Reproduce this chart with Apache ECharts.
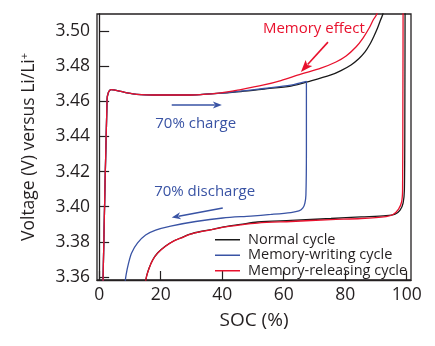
<!DOCTYPE html>
<html>
<head>
<meta charset="utf-8">
<script src="https://cdn.jsdelivr.net/npm/echarts@6/dist/echarts.min.js"></script>
<style>
html,body{margin:0;padding:0;background:#fff;}
#chart{width:435px;height:346px;}
</style>
</head>
<body>
<div id="chart"></div>
<script>
// ---- data (SOC %, Voltage V) ----
var xTicks = [0, 20, 40, 60, 80, 100];
var yTicks = [3.36, 3.38, 3.40, 3.42, 3.44, 3.46, 3.48, 3.50];
var seriesNames = ['Normal cycle', 'Memory-writing cycle', 'Memory-releasing cycle'];

var normalCycle = [
  [1.2, 3.3526], [2.57, 3.4607], [3.06, 3.4653], [3.94, 3.4667], [6.97, 3.4656],
  [12.2, 3.4640], [20, 3.4636], [29.8, 3.4636], [39.6, 3.4647], [46.1, 3.4656],
  [53.6, 3.4670], [62.35, 3.4687], [68.86, 3.4716], [75.37, 3.4750], [78.63, 3.4775],
  [81.89, 3.4807], [84.5, 3.4844], [86.45, 3.4881], [88.08, 3.4926], [89.38, 3.4972],
  [90.52, 3.5017], [91.5, 3.5063], [92.31, 3.5102], [93.5, 3.56], [99.5, 3.56],
  [99.48, 3.5176], [99.41, 3.4607], [99.25, 3.4095], [98.83, 3.4021], [97.85, 3.3981],
  [96.22, 3.3958], [93.29, 3.3949], [85.15, 3.3942], [75.37, 3.3933], [62.35, 3.3922],
  [51.5, 3.3913], [46.0, 3.3899], [40.5, 3.3885], [37.3, 3.3873], [33.0, 3.3859],
  [29.77, 3.3845], [26.5, 3.3822], [24.2, 3.3805], [21.6, 3.3776], [19.0, 3.3737],
  [17.4, 3.3697], [16.25, 3.3651], [15.44, 3.3606], [15.11, 3.3572], [15.0, 3.352]
];
var writingCycle = [
  [1.2, 3.3526], [2.57, 3.4607], [3.06, 3.4653], [3.94, 3.4667], [6.97, 3.4656],
  [12.2, 3.4640], [20, 3.4636], [29.8, 3.4636], [39.6, 3.4647], [46.1, 3.4658],
  [53.6, 3.4673], [62.35, 3.4692], [67.39, 3.4713],
  [67.39, 3.4323], [67.23, 3.4067], [66.9, 3.4021], [66.25, 3.3993], [64.95, 3.3976],
  [62.35, 3.3967], [55.83, 3.3956], [49.32, 3.3947], [40.2, 3.3936], [31.4, 3.3916],
  [23.26, 3.3890], [18.37, 3.3867], [15.11, 3.3839], [12.5, 3.3794], [10.55, 3.3737],
  [9.58, 3.3680], [8.76, 3.3612], [8.44, 3.3566], [8.3, 3.352]
];
var releasingCycle = [
  [1.2, 3.3526], [2.57, 3.4607], [3.06, 3.4653], [3.94, 3.4667], [6.97, 3.4656],
  [12.2, 3.4640], [20, 3.4636], [29.8, 3.4636], [39.6, 3.4648], [46.06, 3.4667],
  [53.55, 3.4693], [59.09, 3.4718], [65.6, 3.4755], [72.1, 3.4789], [77.0, 3.4824],
  [80.3, 3.4858], [83.5, 3.4909], [85.8, 3.4960], [87.8, 3.5017], [89.1, 3.5063],
  [90.4, 3.5102], [91.5, 3.53], [93, 3.56], [98.8, 3.56],
  [98.83, 3.5176], [98.76, 3.4607], [98.66, 3.4095], [98.34, 3.4027], [97.36, 3.3987],
  [95.57, 3.3956], [93.29, 3.3944], [85.15, 3.3933], [75.37, 3.3927], [62.35, 3.3916],
  [51.5, 3.3907], [46.0, 3.3897], [40.5, 3.3884], [37.3, 3.3872], [33.0, 3.3858],
  [29.77, 3.3844], [26.5, 3.3821], [24.2, 3.3804], [21.6, 3.3775], [19.0, 3.3736],
  [17.4, 3.3696], [16.25, 3.3650], [15.44, 3.3605], [15.11, 3.3571], [15.0, 3.352]
];

// annotations in data coordinates
var memoryArrow = [[74.4, 3.4937], [65.6, 3.4767]];
var chargeArrow = [[23.6, 3.4579], [39.9, 3.4579]];
var dischargeArrow = [[40.2, 3.3993], [23.6, 3.3939]];
var labels = [
  {text: 'Memory effect', pos: [69.8, 3.5011], color: '#e8112d'},
  {text: '70% charge', pos: [31.4, 3.4471], color: '#3953a4'},
  {text: '70% discharge', pos: [34.3, 3.4084], color: '#3953a4'}
];

var FONT = '"Open Sans", sans-serif';
var TXT = '#231f20';
var colors = ['#1a1a1a', '#3953a4', '#e8112d'];
var chart = echarts.init(document.getElementById('chart'), null, {renderer: 'canvas'});

var option = {
  animation: false,
  textStyle: {fontFamily: FONT},
  grid: {left: 97, right: 24, top: 14, bottom: 66, show: true, borderColor: TXT, borderWidth: 1.3, backgroundColor: 'transparent'},
  legend: {
    orient: 'vertical', left: 210, top: 227, itemGap: 0,
    itemWidth: 25, itemHeight: 1.5, icon: 'rect',
    data: seriesNames,
    textStyle: {fontFamily: FONT, fontSize: 14.5, color: TXT, lineHeight: 15.5, padding: [0, 0, 0, 3]}
  },
  xAxis: {
    type: 'value', min: -0.7, max: 101.4,
    name: 'SOC (%)', nameLocation: 'middle', nameGap: 31,
    nameTextStyle: {fontFamily: FONT, fontSize: 19, color: TXT},
    axisLine: {lineStyle: {color: TXT, width: 1.3}},
    axisTick: {inside: true, length: 9, customValues: xTicks, lineStyle: {color: TXT, width: 1.2}},
    axisLabel: {customValues: xTicks, fontSize: 17.5, color: TXT, margin: 6, fontFamily: FONT},
    splitLine: {show: false}
  },
  yAxis: {
    type: 'value', min: 3.3583, max: 3.5097,
    name: 'Voltage (V) versus Li/Li{sup|+}', nameLocation: 'middle', nameGap: 58,
    nameTextStyle: {fontFamily: FONT, fontSize: 17.5, color: TXT,
      rich: {sup: {fontSize: 11, fontFamily: FONT, color: TXT, padding: [0, 0, 9, 0]}}},
    axisLine: {lineStyle: {color: TXT, width: 1.3}},
    axisTick: {inside: true, length: 10, customValues: yTicks, lineStyle: {color: TXT, width: 1.2}},
    axisLabel: {customValues: yTicks, fontSize: 17.5, color: TXT, margin: 7, fontFamily: FONT,
      formatter: function (v) { return v.toFixed(2); }},
    splitLine: {show: false}
  },
  series: [
    {name: seriesNames[0], type: 'line', data: normalCycle, showSymbol: false, symbol: 'none', smooth: 0.3, clip: true,
     lineStyle: {color: colors[0], width: 1.3}, itemStyle: {color: colors[0]}},
    {name: seriesNames[1], type: 'line', data: writingCycle, showSymbol: false, symbol: 'none', smooth: 0.3, clip: true,
     lineStyle: {color: colors[1], width: 1.3}, itemStyle: {color: colors[1]}},
    {name: seriesNames[2], type: 'line', data: releasingCycle, showSymbol: false, symbol: 'none', smooth: 0.3, clip: true,
     lineStyle: {color: colors[2], width: 1.3}, itemStyle: {color: colors[2]}}
  ]
};
chart.setOption(option);

function px(p) { return chart.convertToPixel({gridIndex: 0}, p); }
function arrow(pts, color, headLen, headW) {
  var a = px(pts[0]), b = px(pts[1]);
  var dx = b[0] - a[0], dy = b[1] - a[1], L = Math.sqrt(dx * dx + dy * dy);
  var ux = dx / L, uy = dy / L, nx = -uy, ny = ux;
  var bx = b[0] - ux * headLen, by = b[1] - uy * headLen;
  return [
    {type: 'line', shape: {x1: a[0], y1: a[1], x2: bx + ux * 2, y2: by + uy * 2}, style: {stroke: color, lineWidth: 1.6}, z: 100},
    {type: 'polygon', shape: {points: [[b[0], b[1]], [bx + nx * headW / 2, by + ny * headW / 2], [bx + ux * 2.5, by + uy * 2.5], [bx - nx * headW / 2, by - ny * headW / 2]]},
     style: {fill: color}, z: 100}
  ];
}
var g = [];
g = g.concat(arrow(memoryArrow, '#e8112d', 12, 9));
g = g.concat(arrow(chargeArrow, '#3953a4', 9, 7));
g = g.concat(arrow(dischargeArrow, '#3953a4', 9, 7));
labels.forEach(function (l) {
  var p = px(l.pos);
  g.push({type: 'text', x: p[0], y: p[1], z: 100,
    style: {text: l.text, fill: l.color, font: '15px ' + FONT, textAlign: 'center', textVerticalAlign: 'middle'}});
});
chart.setOption({graphic: g});
</script>
</body>
</html>
